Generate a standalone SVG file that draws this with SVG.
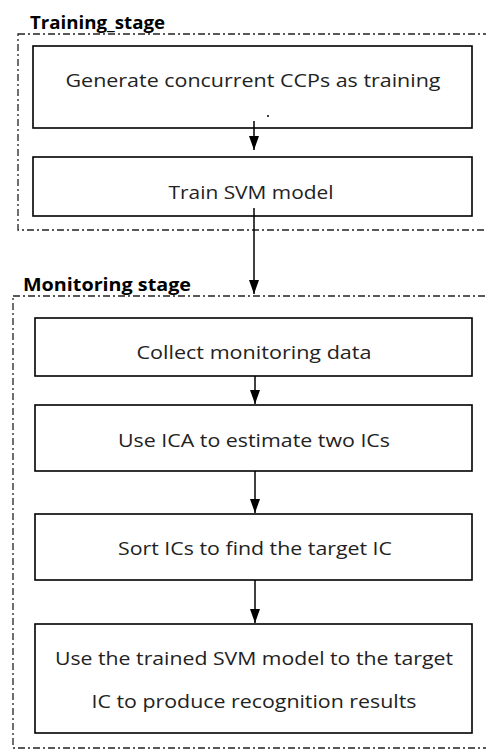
<svg xmlns="http://www.w3.org/2000/svg" width="486" height="751" viewBox="0 0 486 751">
<defs>
<marker id="ah" viewBox="0 0 14 10" refX="14" refY="5" markerWidth="14" markerHeight="10" markerUnits="userSpaceOnUse" orient="auto">
<path d="M0,0 L14,5 L0,10 Z" fill="#000"/>
</marker>
</defs>
<style>
.stage{fill:none;stroke:#222;stroke-width:1.3;stroke-dasharray:7,3,2,3}
.box{fill:#fff;stroke:#000;stroke-width:1.6}
.t{font-family:"Open Sans","Liberation Sans",sans-serif;font-size:18.5px;fill:#222;text-anchor:middle}
.lbl{font-family:"Open Sans","Liberation Sans",sans-serif;font-size:17px;font-weight:bold;fill:#000}
.con{stroke:#000;stroke-width:1.5;fill:none}
</style>
<rect width="486" height="751" fill="#fff"/>
<g id="training-stage">
<rect class="stage" x="18" y="34" width="480" height="196"/>
<text class="lbl" x="30" y="29" textLength="135" lengthAdjust="spacingAndGlyphs">Training_stage</text>
</g>
<g id="monitoring-stage">
<rect class="stage" x="13" y="296" width="485" height="452"/>
<text class="lbl" x="23" y="291" textLength="168" lengthAdjust="spacingAndGlyphs">Monitoring stage</text>
</g>
<g id="node-generate">
<rect class="box" x="33" y="46" width="439" height="82"/>
<text class="t" x="253" y="87" textLength="375" lengthAdjust="spacingAndGlyphs">Generate concurrent CCPs as training</text>
<circle cx="268" cy="116" r="1" fill="#000"/>
</g>
<g id="node-train">
<rect class="box" x="33" y="157" width="439" height="59"/>
<text class="t" x="251" y="199" textLength="165" lengthAdjust="spacingAndGlyphs">Train SVM model</text>
</g>
<g id="node-collect">
<rect class="box" x="35" y="318" width="437" height="58"/>
<text class="t" x="254" y="359" textLength="235" lengthAdjust="spacingAndGlyphs">Collect monitoring data</text>
</g>
<g id="node-ica">
<rect class="box" x="35" y="405" width="437" height="66"/>
<text class="t" x="254" y="447" textLength="272" lengthAdjust="spacingAndGlyphs">Use ICA to estimate two ICs</text>
</g>
<g id="node-sort">
<rect class="box" x="35" y="514" width="437" height="66"/>
<text class="t" x="255" y="555" textLength="274" lengthAdjust="spacingAndGlyphs">Sort ICs to find the target IC</text>
</g>
<g id="node-svm">
<rect class="box" x="35" y="624" width="437" height="109"/>
<text class="t" x="254" y="665" textLength="398" lengthAdjust="spacingAndGlyphs">Use the trained SVM model to the target</text>
<text class="t" x="254" y="708" textLength="325" lengthAdjust="spacingAndGlyphs">IC to produce recognition results</text>
</g>
<g id="connectors">
<line class="con" x1="254" y1="121" x2="254" y2="150" marker-end="url(#ah)"/>
<line class="con" x1="254" y1="208" x2="254" y2="294" marker-end="url(#ah)"/>
<line class="con" x1="255" y1="376" x2="255" y2="404" marker-end="url(#ah)"/>
<line class="con" x1="255" y1="471" x2="255" y2="513" marker-end="url(#ah)"/>
<line class="con" x1="255" y1="580" x2="255" y2="623" marker-end="url(#ah)"/>
</g>
</svg>
